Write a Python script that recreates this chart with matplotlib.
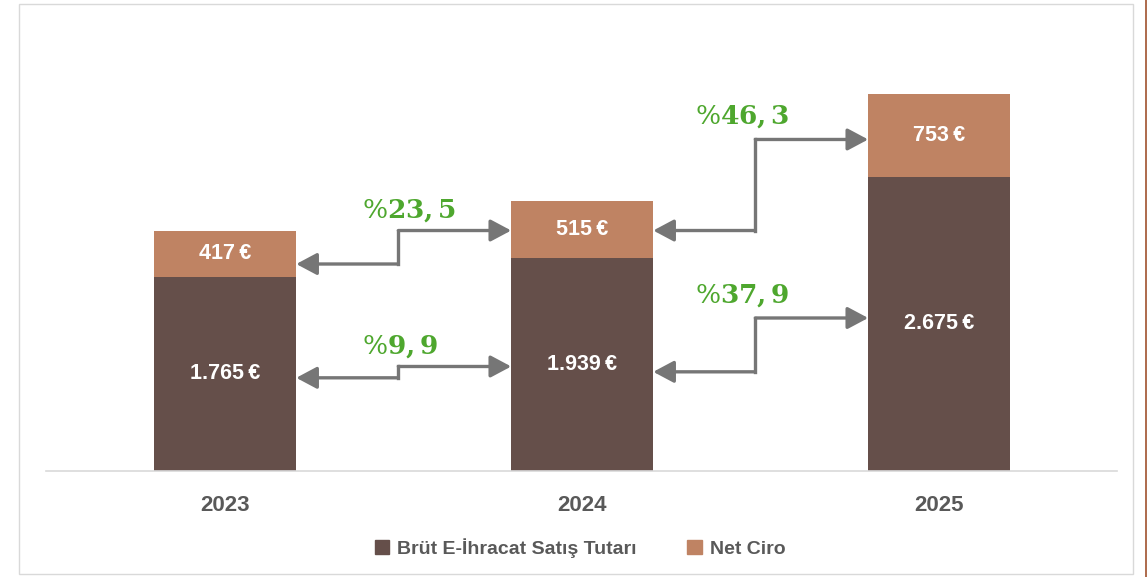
import matplotlib
matplotlib.use("Agg")
import matplotlib.pyplot as plt
from matplotlib.patches import Rectangle, Patch
from matplotlib.lines import Line2D

years = ["2023", "2024", "2025"]
brut = [1765, 1939, 2675]
net = [417, 515, 753]
brut_labels = ["1.765\u2009€", "1.939\u2009€", "2.675\u2009€"]
net_labels = ["417\u2009€", "515\u2009€", "753\u2009€"]
net_growth = ["%23, 5", "%46, 3"]
brut_growth = ["%9, 9", "%37, 9"]

C_DARK = "#654f4a"
C_LIGHT = "#bf8363"
C_TEXT = "#595959"
C_GREEN = "#4ea72e"
C_ARROW = "#767676"

plt.rcParams['font.family'] = ['Liberation Sans', 'DejaVu Sans']
plt.rcParams['mathtext.fontset'] = 'dejavuserif'

fig = plt.figure(figsize=(11.47, 5.77), dpi=100)
W, H = 1147, 577

# outer frame
fig.add_artist(Rectangle((19 / W, 1 - 574 / H), (1133 - 19) / W, (574 - 4) / H,
                         transform=fig.transFigure, fill=False, edgecolor="#d9d9d9", lw=1.0))
fig.add_artist(Line2D([1146 / W, 1146 / W], [0, 1], transform=fig.transFigure,
                      color="#a0522d", lw=1.2))

ax = fig.add_axes([46 / W, 1 - 471 / H, (1117 - 46) / W, 440 / H])
x = list(range(len(years)))
bw = 0.398
ax.bar(x, brut, width=bw, color=C_DARK, zorder=2)
ax.bar(x, net, width=bw, bottom=brut, color=C_LIGHT, zorder=2)
ax.set_xlim(-0.502, 2.498)
ax.set_ylim(0, 4000)

for s in ["top", "right", "left"]:
    ax.spines[s].set_visible(False)
ax.spines["bottom"].set_color("#d9d9d9")
ax.spines["bottom"].set_linewidth(1.2)
ax.set_yticks([])
ax.set_xticks(x)
ax.set_xticklabels(years, fontsize=16, fontweight="bold", color=C_TEXT)
ax.tick_params(axis="x", length=0, pad=17)

for i in x:
    ax.text(i, brut[i] / 2, brut_labels[i], ha="center", va="center",
            color="white", fontsize=15.5, fontweight="bold", zorder=3)
    ax.text(i, brut[i] + net[i] / 2, net_labels[i], ha="center", va="center",
            color="white", fontsize=15.5, fontweight="bold", zorder=3)

px = 4000 / 440.0
label_dx = [-0.101, -0.168]

def elbow(i, y1, y2, label, rise):
    xl = i + bw / 2
    xr = i + 1 - bw / 2
    xe = i + 0.485
    ax.plot([xe, xe], [y1, y2], color=C_ARROW, lw=2.4, solid_capstyle="projecting", zorder=4)
    ap = dict(arrowstyle="-|>,head_length=0.6,head_width=0.32", color=C_ARROW, lw=2.4,
              shrinkA=0, shrinkB=0, mutation_scale=21)
    ax.annotate("", xy=(xl, y1), xytext=(xe, y1), arrowprops=ap, zorder=4)
    ax.annotate("", xy=(xr, y2), xytext=(xe, y2), arrowprops=ap, zorder=4)
    num = label[1:].replace(" ", "")
    ax.text(xe + label_dx[i], y2 + rise * px, r"$\%\mathbf{" + num + "}$",
            ha="left", va="center", color=C_GREEN, fontsize=19, zorder=5)

net_fr = [(0.28, 0.48), (0.48, 0.45)]
brut_fr = [(0.48, 0.49), (0.465, 0.52)]
for i in range(2):
    y1 = brut[i] + net[i] * net_fr[i][0]
    y2 = brut[i + 1] + net[i + 1] * net_fr[i][1]
    elbow(i, y1, y2, net_growth[i], 20 if i == 0 else 23)
    y1 = brut[i] * brut_fr[i][0]
    y2 = brut[i + 1] * brut_fr[i][1]
    elbow(i, y1, y2, brut_growth[i], 20 if i == 0 else 22)

handles = [Patch(color=C_DARK, label="Brüt E-İhracat Satış Tutarı"),
           Patch(color=C_LIGHT, label="Net Ciro")]
leg = fig.legend(handles=handles, loc="center", bbox_to_anchor=(580 / W, 1 - 548 / H),
                 ncol=2, frameon=False, handlelength=0.75, handleheight=0.75,
                 columnspacing=2.6, handletextpad=0.4,
                 prop=dict(family="Liberation Sans", weight="bold", size=14))
for t in leg.get_texts():
    t.set_color(C_TEXT)

fig.savefig("out.png", dpi=100, facecolor="white")
